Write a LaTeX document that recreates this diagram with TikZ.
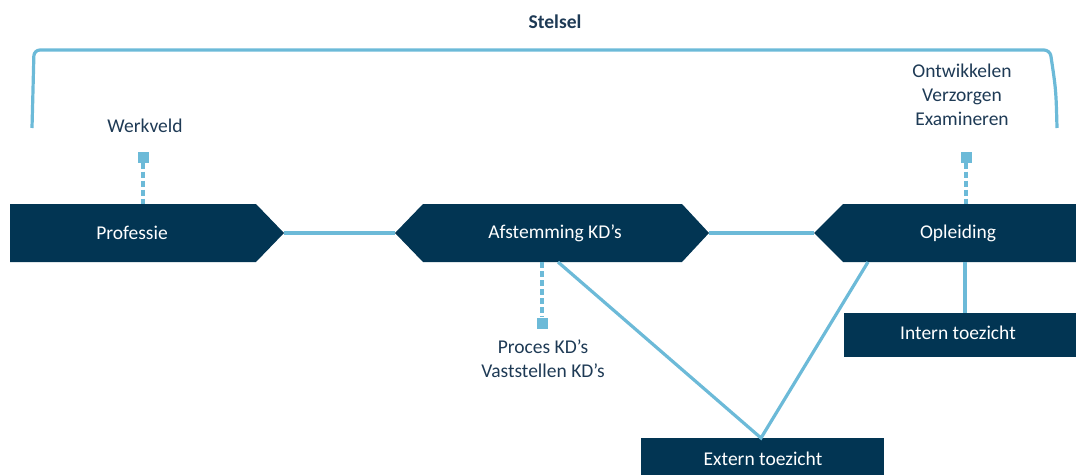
\documentclass[tikz,border=0pt]{standalone}
\usepackage{fontspec}
\setmainfont{Carlito}
\definecolor{navy}{HTML}{023553}
\definecolor{lblue}{HTML}{6CBAD8}
\definecolor{txt}{HTML}{1E3A55}
\begin{document}
\begin{tikzpicture}[x=1pt,y=-1pt,
  boxtext/.style={text=white,font=\fontsize{19.5}{24}\selectfont,inner sep=0pt},
  labeltext/.style={text=txt,font=\fontsize{19.5}{24}\selectfont,inner sep=0pt,align=center},
  link/.style={draw=lblue,line width=3.2pt},
  dlink/.style={draw=lblue,line width=3.2pt,dash pattern=on 6pt off 3pt},
  marker/.style={fill=lblue,minimum size=11pt,inner sep=0pt}]
\useasboundingbox (0,0) rectangle (1076,474);
% bracket
\draw[draw=lblue,line width=3.2pt,rounded corners=6pt]
  (32,128) .. controls (33,90) .. (34,50) -- (1050,50) .. controls (1056,90) .. (1057,128);
\node[text=txt,font=\bfseries\fontsize{19.5}{24}\selectfont,inner sep=0pt] (stelsel) at (555,22) {Stelsel};
% shapes
\fill[navy] (10,204) -- (256,204) -- (284,233) -- (256,262) -- (10,262) -- cycle;
\fill[navy] (395,233) -- (423,204) -- (682,204) -- (709,233) -- (682,262) -- (423,262) -- cycle;
\fill[navy] (814,233) -- (843,204) -- (1080,204) -- (1080,262) -- (843,262) -- cycle;
\fill[navy] (844,313) rectangle (1080,357);
\fill[navy] (641,438) rectangle (884,478);
\node[boxtext] (prof) at (132,233) {Professie};
\node[boxtext] (afst) at (555,233) {Afstemming KD’s};
\node[boxtext] (opl) at (958,233) {Opleiding};
\node[boxtext] (intern) at (958,333) {Intern toezicht};
\node[boxtext] (extern) at (763,459) {Extern toezicht};
% anchors
\coordinate (profE) at (284,233);
\coordinate (afstW) at (395,233);
\coordinate (afstE) at (709,233);
\coordinate (oplW) at (814,233);
\coordinate (afstB) at (558,262);
\coordinate (oplB) at (868,262);
\coordinate (extT) at (761,438);
\coordinate (oplV) at (965,262);
\coordinate (intT) at (965,313);
% connectors
\draw[link] (profE) -- (afstW);
\draw[link] (afstE) -- (oplW);
\draw[link] (afstB) -- (extT) -- (oplB);
\draw[link] (oplV) -- (intT);
% labels with markers
\node[marker] (m1) at (143,157) {};
\node[marker] (m2) at (542,323) {};
\node[marker] (m3) at (966,157) {};
\coordinate (profT) at (143,204);
\coordinate (afstBm) at (542,262);
\coordinate (oplT) at (966,204);
\draw[dlink] (m1.south) -- (profT);
\draw[dlink] (afstBm) -- (m2.north);
\draw[dlink] (m3.south) -- (oplT);
\node[labeltext] (werkveld) at (145,126) {Werkveld};
\node[labeltext,anchor=north] (proces) at (543,340) {Proces KD’s\\Vaststellen KD’s};
\node[labeltext,anchor=north] (ontw) at (962,64) {Ontwikkelen\\Verzorgen\\Examineren};
\end{tikzpicture}
\end{document}
